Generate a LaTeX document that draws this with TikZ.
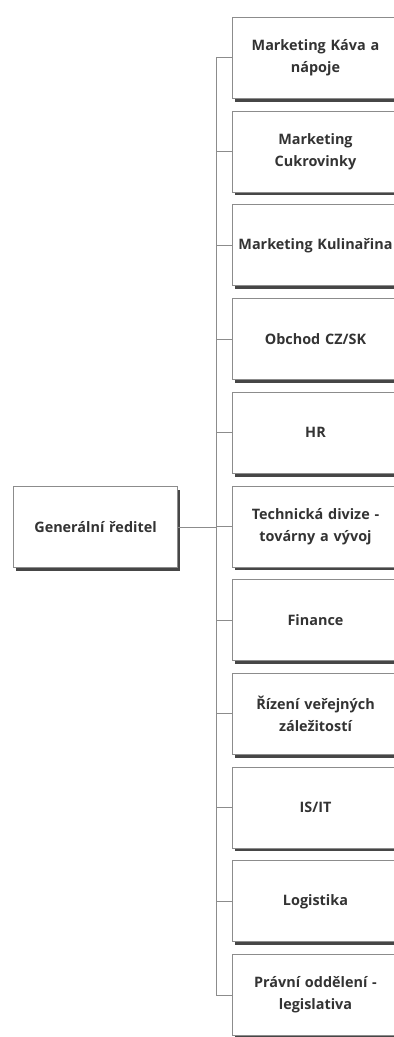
\documentclass[tikz,border=0pt]{standalone}
\usepackage{fontspec}
\setmainfont{Open Sans}
\usetikzlibrary{shadows}
\definecolor{linegray}{HTML}{8C8C8C}
\definecolor{txt}{HTML}{333333}
\tikzset{
  orgbox/.style={draw=linegray, line width=0.75pt, fill=white, align=center,
    text=txt, font=\bfseries\fontsize{10.8}{16.5}\selectfont, inner sep=0pt,
    drop shadow={shadow xshift=1.5pt, shadow yshift=-2.4pt, fill=black!85, opacity=0.85}},
  childbox/.style={orgbox, minimum width=124.5pt, minimum height=60.75pt,
    text width=122pt, anchor=north west},
  rootbox/.style={orgbox, minimum width=123pt, minimum height=60.75pt,
    text width=120pt, anchor=north west},
  link/.style={draw=linegray, line width=0.75pt}
}
\begin{document}
\begin{tikzpicture}[x=0.75pt,y=-0.75pt]
\useasboundingbox (0,0) rectangle (393,1037);
\node[rootbox] (root) at (13,486) {Generální ředitel};
\coordinate (bus) at (216,0);
\foreach \i/\t in {1/{Marketing Káva a\\nápoje},
                   2/{Marketing\\Cukrovinky},
                   3/{Marketing Kulinařina},
                   4/{Obchod CZ/SK},
                   5/{HR},
                   6/{Technická divize -\\továrny a vývoj},
                   7/{Finance},
                   8/{Řízení veřejných\\záležitostí},
                   9/{IS/IT},
                   10/{Logistika},
                   11/{Právní oddělení -\\legislativa}}{
  \node[childbox] (c\i) at (232,{17+93.7*(\i-1)}) {\t};
}
\draw[link] (bus |- c1.west) -- (bus |- c11.west);
\draw[link] (root.east) -- (bus |- root.east);
\foreach \i in {1,...,11}{
  \draw[link] (bus |- c\i.west) -- (c\i.west);
}
\end{tikzpicture}
\end{document}
